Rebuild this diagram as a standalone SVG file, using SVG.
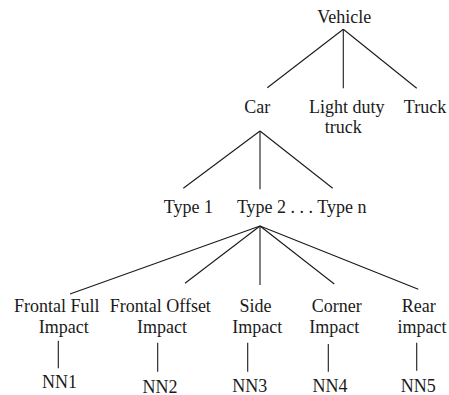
<svg xmlns="http://www.w3.org/2000/svg" width="449" height="395" viewBox="0 0 449 395">
<style>
text{font-family:'Liberation Serif','Times New Roman',serif;font-size:18px;fill:#1a1a1a;text-anchor:middle}
.c line{stroke:#1a1a1a;stroke-width:1.1}
</style>
<rect width="449" height="395" fill="#fff"/>
<g class="c" id="connectors">
<line x1="343.3" y1="29.3" x2="267.3" y2="87.7"/>
<line x1="343.3" y1="29.3" x2="343.3" y2="88.3"/>
<line x1="343.3" y1="29.3" x2="416.7" y2="88.3"/>
<line x1="260" y1="131" x2="183.3" y2="188.3"/>
<line x1="260" y1="131" x2="260" y2="189.3"/>
<line x1="260" y1="131" x2="332.7" y2="188.3"/>
<line x1="260" y1="226" x2="70" y2="294"/>
<line x1="260" y1="226" x2="185" y2="283.3"/>
<line x1="260" y1="226" x2="260" y2="285"/>
<line x1="260" y1="226" x2="334.3" y2="284"/>
<line x1="260" y1="226" x2="418.3" y2="289.3"/>
<line x1="58.3" y1="340.7" x2="58.3" y2="368.3"/>
<line x1="157.7" y1="342.7" x2="157.7" y2="371.7"/>
<line x1="247.7" y1="342.7" x2="247.7" y2="371.7"/>
<line x1="328.3" y1="344" x2="328.3" y2="371.7"/>
<line x1="416.7" y1="342.7" x2="416.7" y2="370.7"/>
</g>
<g id="vehicle"><text x="344.2" y="23">Vehicle</text></g>
<g id="car"><text x="257.3" y="113">Car</text></g>
<g id="lightduty"><text x="346.7" y="113">Light duty</text><text x="343.3" y="133">truck</text></g>
<g id="truck"><text x="425" y="113">Truck</text></g>
<g id="type1"><text x="188.3" y="213">Type 1</text></g>
<g id="type2n"><text x="301.7" y="213">Type 2 . . . Type n</text></g>
<g id="ffi"><text x="56.7" y="311.7">Frontal Full</text><text x="63.8" y="332.7">Impact</text></g>
<g id="foi"><text x="160.3" y="311.7">Frontal Offset</text><text x="162" y="332.7">Impact</text></g>
<g id="si"><text x="255.5" y="311.7">Side</text><text x="257.2" y="332.7">Impact</text></g>
<g id="ci"><text x="336.7" y="311.7">Corner</text><text x="334.3" y="332.7">Impact</text></g>
<g id="ri"><text x="418.8" y="311.7">Rear</text><text x="422" y="332.7">impact</text></g>
<g id="nn1"><text x="59.5" y="388.3">NN1</text></g>
<g id="nn2"><text x="160" y="392.5">NN2</text></g>
<g id="nn3"><text x="249.7" y="391.7">NN3</text></g>
<g id="nn4"><text x="330" y="392">NN4</text></g>
<g id="nn5"><text x="418.3" y="392">NN5</text></g>
</svg>
